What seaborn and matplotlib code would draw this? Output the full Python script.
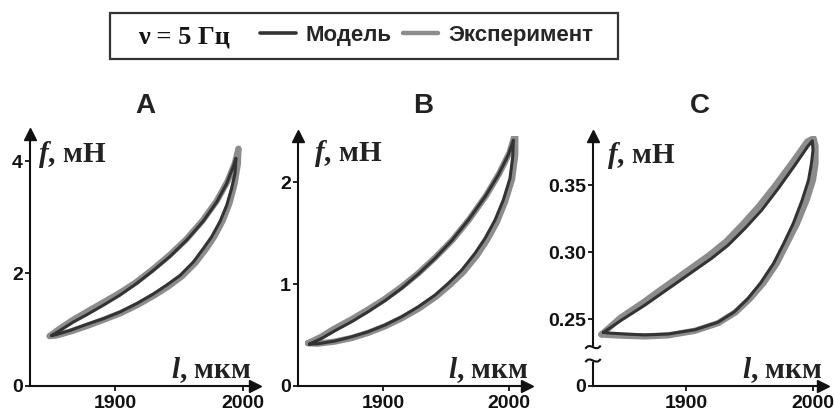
import matplotlib
matplotlib.use("Agg")
import numpy as np
import pandas as pd
import seaborn as sns
import matplotlib.pyplot as plt
import matplotlib.transforms as mtransforms
from matplotlib.lines import Line2D
from matplotlib.patches import Rectangle, PathPatch
from matplotlib.path import Path

# ---------------- data ----------------
series_names = ["Модель", "Эксперимент"]
legend_note = "ν = 5 Гц"
panel_titles = ["A", "B", "C"]
y_label = "$f$, мН"
x_label = "$l$, мкм"
x_ticks = [1900, 2000]
x_ticklabels = ["1900", "2000"]

A_yticks = [0, 2, 4]
A_yticklabels = ["0", "2", "4"]
B_yticks = [0, 1, 2]
B_yticklabels = ["0", "1", "2"]
C_yticks = [0.20, 0.25, 0.30, 0.35]
C_yticklabels = ["0", "0.25", "0.30", "0.35"]

# Panel A loops (length, мкм ; force, мН)
A_model_l = [1850.5, 1857.0, 1867.4, 1877.9, 1890.9, 1903.9, 1917.0, 1929.9, 1943.0, 1956.0,
             1969.0, 1979.5, 1987.3, 1992.4, 1994.5, 1993.8, 1991.1, 1987.3, 1982.0, 1975.5,
             1969.0, 1961.2, 1950.8, 1940.4, 1929.9, 1917.0, 1903.9, 1890.9, 1877.9, 1864.8,
             1854.5, 1850.5]
A_model_f = [0.89, 0.98, 1.13, 1.26, 1.43, 1.61, 1.82, 2.05, 2.30, 2.59,
             2.93, 3.27, 3.60, 3.90, 4.05, 3.78, 3.51, 3.21, 2.92, 2.65,
             2.44, 2.20, 1.96, 1.79, 1.63, 1.46, 1.31, 1.19, 1.09, 0.98,
             0.91, 0.89]
A_exp_l = [1849.0, 1856.0, 1866.5, 1877.0, 1890.0, 1903.0, 1916.5, 1929.5, 1942.5, 1955.5,
           1968.5, 1979.5, 1988.0, 1993.5, 1996.5, 1996.0, 1993.5, 1989.5, 1984.0, 1977.5,
           1971.0, 1963.0, 1952.5, 1942.0, 1931.0, 1918.0, 1904.5, 1891.0, 1878.0, 1865.0,
           1854.0, 1849.0]
A_exp_f = [0.88, 1.00, 1.16, 1.30, 1.47, 1.64, 1.84, 2.07, 2.32, 2.60,
           2.94, 3.29, 3.64, 3.95, 4.22, 3.95, 3.60, 3.25, 2.93, 2.65,
           2.43, 2.19, 1.95, 1.77, 1.61, 1.44, 1.29, 1.17, 1.06, 0.96,
           0.89, 0.88]

# Panel B loops
B_model_l = [1841.5, 1851.3, 1861.9, 1875.2, 1888.3, 1901.6, 1914.8, 1928.0, 1941.3, 1954.5,
             1967.7, 1981.0, 1991.5, 1999.4, 2003.5, 2003.0, 2000.8, 1995.5, 1988.9, 1981.0,
             1973.0, 1962.5, 1951.8, 1941.3, 1928.0, 1914.8, 1901.6, 1888.3, 1875.2, 1861.9,
             1848.7, 1841.5]
B_model_f = [0.41, 0.467, 0.542, 0.631, 0.729, 0.837, 0.958, 1.098, 1.252, 1.425,
             1.627, 1.856, 2.069, 2.265, 2.41, 2.25, 2.036, 1.824, 1.627, 1.448,
             1.301, 1.137, 1.007, 0.892, 0.777, 0.679, 0.598, 0.532, 0.483, 0.441,
             0.415, 0.41]
B_exp_l = [1840.5, 1850.5, 1861.0, 1874.5, 1887.5, 1901.0, 1914.5, 1928.0, 1941.5, 1955.0,
           1968.5, 1982.0, 1992.5, 2000.5, 2005.0, 2005.0, 2002.5, 1997.0, 1990.5, 1982.5,
           1974.5, 1964.0, 1953.0, 1942.0, 1928.5, 1915.0, 1901.5, 1888.0, 1875.0, 1861.5,
           1848.0, 1840.5]
B_exp_f = [0.42, 0.48, 0.56, 0.65, 0.745, 0.85, 0.97, 1.105, 1.26, 1.43,
           1.635, 1.87, 2.09, 2.29, 2.48, 2.27, 2.03, 1.81, 1.61, 1.43,
           1.28, 1.12, 0.99, 0.875, 0.76, 0.665, 0.585, 0.52, 0.47, 0.435,
           0.415, 0.42]

# Panel C loops
C_model_l = [1835.0, 1849.4, 1867.7, 1880.9, 1893.9, 1907.1, 1920.2, 1933.3, 1946.5, 1959.6,
             1972.7, 1985.8, 1996.0, 1999.5, 2000.0, 1998.8, 1996.5, 1991.5, 1984.5, 1977.0,
             1969.0, 1958.8, 1948.5, 1938.0, 1925.0, 1907.1, 1886.1, 1867.7, 1852.0, 1840.0,
             1835.0]
C_model_f = [0.2400, 0.2493, 0.2604, 0.2692, 0.2778, 0.2866, 0.2953, 0.3052, 0.3177, 0.3313,
             0.3475, 0.3649, 0.3790, 0.3830, 0.3760, 0.3662, 0.3537, 0.3388, 0.3214, 0.3065,
             0.2916, 0.2770, 0.2650, 0.2553, 0.2475, 0.2420, 0.2388, 0.2381, 0.2388, 0.2395,
             0.2400]
C_exp_l = [1833.5, 1848.5, 1866.5, 1879.5, 1892.5, 1905.5, 1918.5, 1931.5, 1944.5, 1957.5,
           1971.0, 1984.5, 1995.5, 2000.5, 2002.0, 2002.0, 2000.0, 1995.0, 1987.5, 1979.5,
           1971.5, 1961.0, 1950.0, 1939.0, 1925.5, 1907.0, 1886.0, 1867.5, 1852.0, 1840.0,
           1833.5]
C_exp_f = [0.2385, 0.2510, 0.2625, 0.2715, 0.2802, 0.2890, 0.2978, 0.3078, 0.3205, 0.3343,
           0.3505, 0.3678, 0.3825, 0.3850, 0.3790, 0.3662, 0.3537, 0.3388, 0.3214, 0.3065,
           0.2916, 0.2768, 0.2648, 0.2550, 0.2470, 0.2412, 0.2378, 0.2370, 0.2375, 0.2380,
           0.2385]

# ---------------- style ----------------
sns.set_theme(style="white")
plt.rcParams["font.family"] = ["Liberation Sans", "DejaVu Sans"]
plt.rcParams["font.weight"] = "bold"
plt.rcParams["mathtext.fontset"] = "custom"
plt.rcParams["mathtext.it"] = "Liberation Serif:italic:bold"
plt.rcParams["mathtext.rm"] = "Liberation Serif:bold"
plt.rcParams["mathtext.bf"] = "Liberation Serif:bold"

MODEL_C = "#333333"
EXP_C = "#8c8c8c"
INK = "#111111"
W, H = 834, 412

fig = plt.figure(figsize=(W / 100, H / 100), dpi=100)


def frac_box(left, right, top, bottom):
    return [left / W, 1 - bottom / H, (right - left) / W, (bottom - top) / H]


panels = [
    dict(title=panel_titles[0], box=(30, 254.5, 133.5, 385.5), xlim=(1833.6, 2009.0), ylim=(0, 4.49),
         yt=A_yticks, ytl=A_yticklabels, ml=A_model_l, mf=A_model_f, el=A_exp_l, ef=A_exp_f,
         title_xy=(145, 113), flab=(38, 162), llab=(251, 378)),
    dict(title=panel_titles[1], box=(298, 526.5, 135.5, 386), xlim=(1832.5, 2013.9), ylim=(0, 2.456),
         yt=B_yticks, ytl=B_yticklabels, ml=B_model_l, mf=B_model_f, el=B_exp_l, ef=B_exp_f,
         title_xy=(423, 113), flab=(314, 161), llab=(528, 378)),
    dict(title=panel_titles[2], box=(593, 822.5, 135.5, 386), xlim=(1826.8, 2007.5), ylim=(0.20, 0.387),
         yt=C_yticks, ytl=C_yticklabels, ml=C_model_l, mf=C_model_f, el=C_exp_l, ef=C_exp_f,
         title_xy=(700, 113), flab=(607, 163), llab=(822, 378)),
]

# tilde-shaped break mark (in points, relative to its anchor)
squiggle = Path([(-5.5, -1.2), (-2.0, 4.5), (2.0, -4.5), (5.5, 1.2)],
                [Path.MOVETO, Path.CURVE4, Path.CURVE4, Path.CURVE4])

for i, p in enumerate(panels):
    ax = fig.add_axes(frac_box(*p["box"]))
    df_exp = pd.DataFrame({"l": p["el"], "f": p["ef"], "series": series_names[1]})
    df_mod = pd.DataFrame({"l": p["ml"], "f": p["mf"], "series": series_names[0]})
    sns.lineplot(data=df_exp, x="l", y="f", sort=False, estimator=None, color=EXP_C,
                 lw=4.5, legend=False, ax=ax, solid_joinstyle="round", solid_capstyle="round")
    sns.lineplot(data=df_mod, x="l", y="f", sort=False, estimator=None, color=MODEL_C,
                 lw=2.2, legend=False, ax=ax, solid_joinstyle="round", solid_capstyle="round")
    ax.set_xlim(*p["xlim"])
    ax.set_ylim(*p["ylim"])
    ax.set_xticks(x_ticks)
    ax.set_xticklabels(x_ticklabels, fontweight="bold", fontsize=14)
    ax.set_yticks(p["yt"])
    ax.set_yticklabels(p["ytl"], fontweight="bold", fontsize=14)
    ax.set_xlabel("")
    ax.set_ylabel("")
    ax.set_facecolor("none")
    for s in ["top", "right"]:
        ax.spines[s].set_visible(False)
    for s in ["left", "bottom"]:
        ax.spines[s].set_color(INK)
        ax.spines[s].set_linewidth(1.5)
    ax.tick_params(axis="both", direction="out", length=3.5, width=1.3, color=INK,
                   labelcolor=INK, bottom=True, left=True)
    ax.tick_params(axis="x", pad=3)
    ax.tick_params(axis="y", pad=1.5)
    # arrowheads
    ax.plot(1, 0, marker=">", ms=8, color=INK, transform=ax.transAxes, clip_on=False, zorder=5)
    ax.plot(0, 1, marker="^", ms=8, color=INK, transform=ax.transAxes, clip_on=False, zorder=5)
    if i == 2:
        bt = mtransforms.blended_transform_factory(ax.transAxes, ax.transData)
        ax.plot([0, 0], [0.2200, 0.2278], color="white", lw=4, transform=bt, clip_on=False, zorder=4)
        for yb in (0.2290, 0.2190):
            tr = mtransforms.Affine2D().scale(fig.dpi / 72) + mtransforms.ScaledTranslation(0, yb, bt)
            ax.add_patch(PathPatch(squiggle, transform=tr, fill=False, lw=1.5, ec=INK,
                                   clip_on=False, zorder=6))
    # titles and axis labels
    tx, ty = p["title_xy"]
    fig.text(tx / W, 1 - ty / H, p["title"], ha="center", va="baseline", fontsize=20,
             fontweight="bold", color="#222222")
    fx, fy = p["flab"]
    fig.text(fx / W, 1 - fy / H, y_label, ha="left", va="baseline", fontsize=21,
             family="Liberation Serif", fontweight="bold", color="#222222")
    lx, ly = p["llab"]
    fig.text(lx / W, 1 - ly / H, x_label, ha="right", va="baseline", fontsize=21,
             family="Liberation Serif", fontweight="bold", color="#222222")

# ---------------- legend ----------------
fig.patches.append(Rectangle((110 / W, 1 - 59 / H), 508 / W, 46 / H, transform=fig.transFigure,
                             fill=False, lw=1.6, ec="#333333", zorder=1))
fig.text(138 / W, 1 - 43 / H, legend_note, ha="left", va="baseline", fontsize=19,
         family="Liberation Serif", fontweight="bold", color="#151515")
handles = [Line2D([0], [0], color=MODEL_C, lw=2.6), Line2D([0], [0], color=EXP_C, lw=3.2)]
fig.legend(handles=handles, labels=series_names, ncol=2, frameon=False, loc="center left",
           bbox_to_anchor=(260 / W, 1 - 35 / H), borderpad=0, borderaxespad=0,
           handlelength=1.6, handletextpad=0.45, columnspacing=0.5,
           prop={"family": "Liberation Sans", "weight": "bold", "size": 16})

fig.savefig("out.png", dpi=100)
